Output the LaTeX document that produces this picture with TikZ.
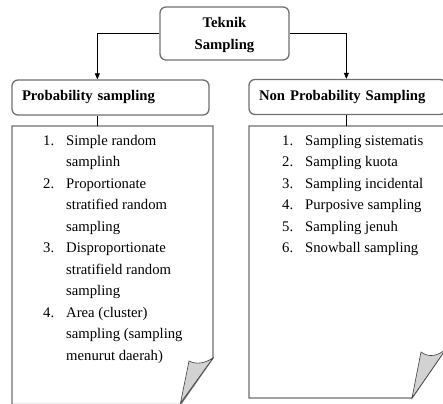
\documentclass[tikz,border=0pt]{standalone}
\usepackage{fontspec}
\setmainfont{Liberation Serif}
\usetikzlibrary{arrows.meta}

\definecolor{boxgray}{RGB}{112,112,112}
\definecolor{flapgray}{RGB}{210,210,210}

\newcommand{\itm}[1]{\makebox[23pt][l]{#1.}}
\newcommand{\cnt}{\hspace*{23pt}}

\begin{document}
\begin{tikzpicture}[
  x=1pt, y=-1pt,
  every node/.style={font=\fontsize{14.7}{21.5}\selectfont},
  head/.style={rectangle,draw=boxgray,line width=1.3pt,rounded corners=6pt,inner sep=0pt,
    font=\fontsize{14.7}{21.5}\selectfont\bfseries},
  page/.style={draw=boxgray,line width=1.3pt,fill=white},
  flap/.style={draw=black!75,line width=0.6pt,fill=flapgray},
  list/.style={align=left,inner sep=0pt,anchor=north west},
  line/.style={draw=black,line width=0.8pt},
  arr/.style={line,-{Triangle[length=6pt,width=5pt]}}]
\useasboundingbox (0,0) rectangle (443,403);
\clip (0,0) rectangle (443,403);

% heading boxes
\node[head,minimum width=129,minimum height=53,align=center,text depth=0pt] (teknik) at (224.5,33.5) {Teknik\\Sampling};
\node[head,minimum width=197,minimum height=35,text width=177,align=left] (prob) at (110.5,97.5) {Probability sampling};
\node[head,minimum width=197,minimum height=35,text width=177,align=left] (nonprob) at (347.5,97) {Non Probability Sampling};

% pages with curled corner
\coordinate (pageL) at (12,126);
\coordinate (pageR) at (249,126);
\draw[page] (pageL) -- (213,126) -- (213,358) -- (180.5,404.5) -- (12,404.5) -- cycle;
\filldraw[flap] (213,358) -- (180.5,403) -- (189,361) .. controls (197,365) and (205,363) .. cycle;
\draw[page] (pageR) -- (445,126) -- (445,350) -- (412,398) -- (249,398) -- cycle;
\filldraw[flap] (446,349) -- (412,398) -- (421,352) .. controls (429,358) and (438,356) .. cycle;

% connectors
\draw[arr] (teknik.west) -| ([xshift=86]prob.north west);
\draw[arr] (teknik.east) -| ([xshift=98]nonprob.north west);
\draw[line] ([xshift=86]prob.south west) -- ([xshift=86]prob.south west |- pageL);
\draw[line] ([xshift=98]nonprob.south west) -- ([xshift=98]nonprob.south west |- pageR);

% lists
\node[list] (listL) at (43,135) {\itm{1}Simple random\\\cnt samplinh\\
  \itm{2}Proportionate\\\cnt stratified random\\\cnt sampling\\
  \itm{3}Disproportionate\\\cnt stratifield random\\\cnt sampling\\
  \itm{4}Area (cluster)\\\cnt sampling (sampling\\\cnt menurut daerah)};
\node[list] (listR) at (282,135) {\itm{1}Sampling sistematis\\\itm{2}Sampling kuota\\
  \itm{3}Sampling incidental\\\itm{4}Purposive sampling\\
  \itm{5}Sampling jenuh\\\itm{6}Snowball sampling};
\end{tikzpicture}
\end{document}
